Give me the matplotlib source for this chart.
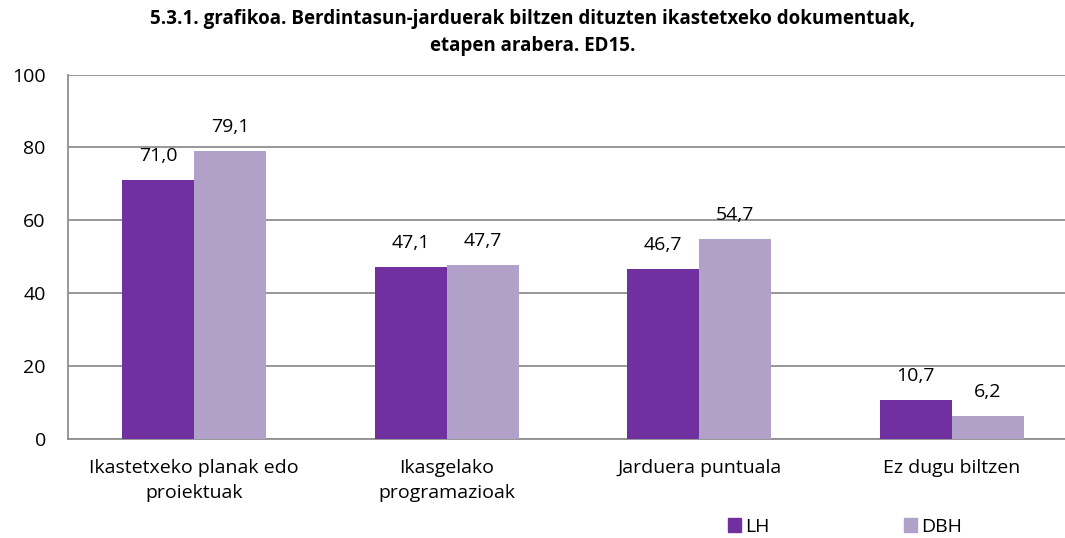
import numpy as np
import matplotlib.pyplot as plt
from matplotlib.patches import Patch

plt.rcParams['font.family'] = ['Open Sans', 'DejaVu Sans']

categories = ["Ikastetxeko planak edo\nproiektuak", "Ikasgelako\nprogramazioak",
              "Jarduera puntuala", "Ez dugu biltzen"]
lh = [71.0, 47.1, 46.7, 10.7]
dbh = [79.1, 47.7, 54.7, 6.2]
series_names = ["LH", "DBH"]
colors = ["#7030A0", "#B1A0C7"]

W, H = 1065, 538
fig = plt.figure(figsize=(W / 100, H / 100), dpi=100)
# plot area runs a little past the right edge of the figure
ax = fig.add_axes([68 / W, 1 - 438.5 / H, 1010 / W, 364 / H])

x = np.arange(len(categories))
w = 0.285
b1 = ax.bar(x - w / 2, lh, w, color=colors[0], zorder=3)
b2 = ax.bar(x + w / 2, dbh, w, color=colors[1], zorder=3)

for bars, vals in ((b1, lh), (b2, dbh)):
    for bar, v in zip(bars, vals):
        ax.text(bar.get_x() + bar.get_width() / 2, v + 5.2, f"{v:.1f}".replace(".", ","),
                ha="center", va="baseline", fontsize=14)

ax.set_ylim(0, 100)
ax.set_xlim(-0.5, len(categories) - 0.5)
ax.set_yticks(range(0, 101, 20))
ax.set_xticks(x)
ax.set_xticklabels(categories, fontsize=14, linespacing=1.5)
ax.tick_params(axis="y", labelsize=14, length=0, pad=16)
ax.tick_params(axis="x", length=0, pad=15)
ax.grid(axis="y", color="#8f8f8f", linewidth=1.3, zorder=0)
for s in ["top", "right"]:
    ax.spines[s].set_visible(False)
for s in ["left", "bottom"]:
    ax.spines[s].set_color("#8f8f8f")
    ax.spines[s].set_linewidth(1.3)

fig.text(0.5, 1 - 9 / H, "5.3.1. grafikoa. Berdintasun-jarduerak biltzen dituzten ikastetxeko dokumentuak,\netapen arabera. ED15.",
         ha="center", va="top", fontsize=13.5, fontweight="bold", linespacing=1.45)

handles = [Patch(color=c, label=n) for c, n in zip(colors, series_names)]
fig.legend(handles=handles, loc="center", bbox_to_anchor=(845 / W, 1 - 527 / H), ncol=2,
           frameon=False, fontsize=14, handlelength=0.7, handleheight=0.7,
           handletextpad=0.2, columnspacing=6.9, borderpad=0)

fig.savefig("out.png", dpi=100)
